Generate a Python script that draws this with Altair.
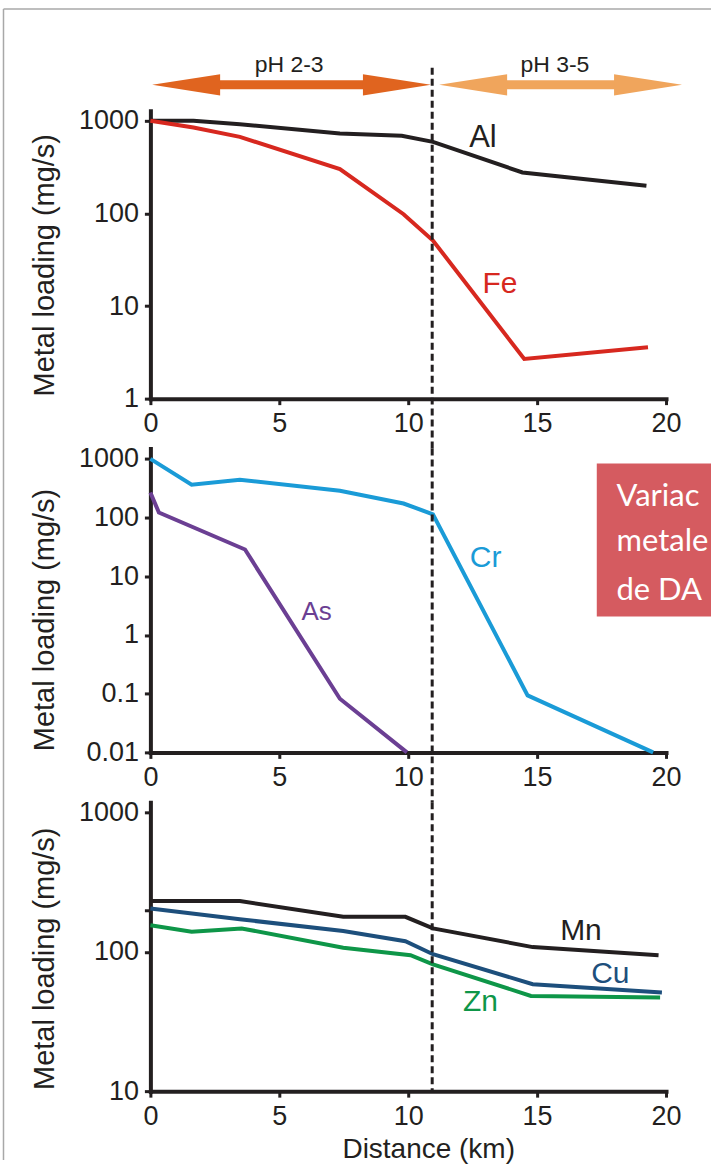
import altair as alt
import pandas as pd

# ---------------- data ----------------
al_x = [0, 1.67, 3.47, 7.35, 9.75, 10.96, 14.43, 19.24]
al_y = [1000, 1000, 920, 730, 688, 593, 277, 199]
fe_x = [0, 1.67, 3.47, 7.35, 9.82, 10.96, 14.5, 19.3]
fe_y = [1000, 847, 671, 301, 98, 51, 2.68, 3.58]

cr_x = [0, 1.6, 3.47, 7.35, 9.82, 10.96, 14.63, 19.5]
cr_y = [1000, 363, 443, 287, 174, 114, 0.0936, 0.01]
as_x = [0, 0.33, 3.67, 7.35, 9.95]
as_y = [268, 122, 28.6, 0.082, 0.01]

mn_x = [0, 3.47, 7.48, 9.89, 10.96, 14.83, 19.71]
mn_y = [231, 231, 178, 178, 147, 108, 94.4]
cu_x = [0, 3.47, 7.48, 9.89, 10.96, 14.83, 19.84]
cu_y = [204, 171, 141, 119, 96, 58.5, 51]
zn_x = [0, 1.6, 3.54, 7.48, 10.09, 10.96, 14.76, 19.77]
zn_y = [155, 139, 147, 107, 94.4, 81.3, 48.2, 47]

# series label anchors (km, mg/s)
top_labels = ["Al", "Fe"]
top_label_x = [12.9, 13.56]
top_label_y = [656, 17.3]
mid_labels = ["Cr", "As"]
mid_label_x = [13.0, 6.45]
mid_label_y = [20.6, 2.51]
bot_labels = ["Mn", "Cu", "Zn"]
bot_label_x = [16.7, 17.84, 12.8]
bot_label_y = [141, 69, 43.3]

# pH zones (km)
ph_names = ["pH 2-3", "pH 3-5"]
ph_start = [0.07, 11.2]
ph_end = [10.88, 20.62]
ph_text_x = [5.38, 15.69]
boundary_km = [10.93]

x_ticks = [0, 5, 10, 15, 20]
top_ticks = [1, 10, 100, 1000]
mid_ticks = [0.01, 0.1, 1, 10, 100, 1000]
bot_ticks = [10, 100, 200, 1000]

# ---------------- styles ----------------
BLACK = "#231F20"
RED = "#D7281F"
BLUE = "#1A9BD7"
PURPLE = "#6B3F93"
DKBLUE = "#1D4F7C"
GREEN = "#0E9648"
ORANGE = "#E0641F"
LORANGE = "#F0A55C"
FONT = "Liberation Sans"
W = 516
GAP = 50
H_TOP, H_MID, H_BOT = 288, 304, 289


def make_x(title=False):
    kw = dict(values=x_ticks, format="d", labelFlush=False, labelOverlap=False,
              domainColor=BLACK, domainWidth=4, domainCap="square",
              tickColor=BLACK, tickWidth=3, tickSize=6, grid=False,
              labelFont=FONT, labelFontSize=27, labelColor=BLACK, labelPadding=6)
    if title:
        kw.update(title="Distance (km)", titleFont=FONT, titleFontSize=28,
                  titleFontWeight="normal", titleColor=BLACK, titleX=278,
                  titleY=66, titleAlign="center", titleBaseline="alphabetic",
                  titleAnchor="start")
    else:
        kw.update(title="")
    return alt.X("x:Q", scale=alt.Scale(domain=[0, 20], nice=False, zero=False),
                 axis=alt.Axis(**kw))


def make_y(domain, ticks, title_y, hide200=False):
    kw = dict(values=ticks, format="~g", labelFlush=False, labelOverlap=False,
              domainColor=BLACK, domainWidth=4, domainCap="square",
              tickColor=BLACK, tickWidth=3, tickSize=6, grid=False,
              labelFont=FONT, labelFontSize=27, labelColor=BLACK, labelPadding=6,
              title="Metal loading (mg/s)", titleFont=FONT, titleFontSize=29,
              titleFontWeight="normal", titleColor=BLACK, titleAngle=270,
              titleX=-97, titleY=title_y, titleAlign="center",
              titleBaseline="alphabetic", titleAnchor="start")
    if hide200:
        kw["labelExpr"] = "datum.value == 200 ? '' : datum.label"
    return alt.Y("y:Q", scale=alt.Scale(type="log", domain=domain, nice=False),
                 axis=alt.Axis(**kw))


def series_df(items):
    rows = []
    for name, xs, ys, col in items:
        for a, b in zip(xs, ys):
            rows.append({"s": name, "x": a, "y": b, "c": col})
    return pd.DataFrame(rows)


def label_df(names, xs, ys, cols):
    return pd.DataFrame({"t": names, "x": xs, "y": ys, "c": cols})


def panel(items, labels, domain, ticks, height, title_y, extra_fn=None, x_title=False,
          hide200=False, dash_to=None, dash_from=0, label_sizes=None):
    X = make_x(x_title)
    Y = make_y(domain, ticks, title_y, hide200)
    lines = alt.Chart(series_df(items)).mark_line(strokeWidth=4).encode(
        x=X, y=Y, detail="s:N", color=alt.Color("c:N", scale=None))
    layers = [lines]
    for i in range(len(labels)):
        row = labels.iloc[[i]]
        size = label_sizes[i] if label_sizes else 30
        layers.append(alt.Chart(row).mark_text(font=FONT, fontSize=size, align="center",
                                               baseline="middle").encode(
            x=X, y=Y, text="t:N", color=alt.Color("c:N", scale=None)))
    dash = alt.Chart(pd.DataFrame({"x": boundary_km})).mark_rule(
        strokeDash=[7, 4], strokeWidth=3, color=BLACK).encode(
        x=X, y=alt.value(dash_from), y2=alt.value(dash_to))
    layers.append(dash)
    if extra_fn is not None:
        layers.extend(extra_fn(X))
    return alt.layer(*layers).properties(width=W, height=height)


one = pd.DataFrame({"a": [0]})


def top_extras(X):
    frame_top = alt.Chart(one).mark_rule(color="#A8A8A8", strokeWidth=1.5).encode(
        x=alt.value(-147), x2=alt.value(561), y=alt.value(-102))
    frame_left = alt.Chart(one).mark_rule(color="#A8A8A8", strokeWidth=1.5).encode(
        x=alt.value(-147), y=alt.value(-102), y2=alt.value(1050))
    arrows = pd.DataFrame({"x": ph_start, "x2": ph_end, "c": [ORANGE, LORANGE]})
    shaft = alt.Chart(arrows).mark_rule(strokeWidth=9, xOffset=60, x2Offset=-60).encode(
        x=X, x2="x2:Q", y=alt.value(-26), color=alt.Color("c:N", scale=None))
    head_l = alt.Chart(pd.DataFrame({"x": ph_start, "c": [ORANGE, LORANGE]})).mark_point(
        shape="M0,0L2,-0.31L2,0.31Z", filled=True, size=4624, opacity=1,
        strokeWidth=0).encode(x=X, y=alt.value(-26), color=alt.Color("c:N", scale=None))
    head_r = alt.Chart(pd.DataFrame({"x": ph_end, "c": [ORANGE, LORANGE]})).mark_point(
        shape="M0,0L-2,-0.31L-2,0.31Z", filled=True, size=4624, opacity=1,
        strokeWidth=0).encode(x=X, y=alt.value(-26), color=alt.Color("c:N", scale=None))
    ph_text = alt.Chart(pd.DataFrame({"x": ph_text_x, "t": ph_names})).mark_text(
        font=FONT, fontSize=23, color=BLACK, align="center", baseline="alphabetic").encode(
        x=X, y=alt.value(-39), text="t:N")
    return [shaft, head_l, head_r, ph_text, frame_top, frame_left]


def mid_extras(X):
    box = alt.Chart(one).mark_rect(color="#D55B60").encode(
        x=alt.value(446.7), x2=alt.value(561), y=alt.value(15), y2=alt.value(168))
    out = [box]
    for txt, yy in [("Variac", 57), ("metale", 102), ("de DA", 152)]:
        out.append(alt.Chart(one).mark_text(
            font="Lato", fontSize=31, color="white", align="left", baseline="alphabetic",
            limit=94, ellipsis="").encode(x=alt.value(466.4), y=alt.value(yy),
                                          text=alt.value(txt)))
    return out


top = panel([("Al", al_x, al_y, BLACK), ("Fe", fe_x, fe_y, RED)],
            label_df(top_labels, top_label_x, top_label_y, [BLACK, RED]),
            [1, 1282], top_ticks, H_TOP, 154, extra_fn=top_extras,
            dash_from=-43, dash_to=H_TOP + GAP, label_sizes=[31, 30])
mid = panel([("Cr", cr_x, cr_y, BLUE), ("As", as_x, as_y, PURPLE)],
            label_df(mid_labels, mid_label_x, mid_label_y, [BLUE, PURPLE]),
            [0.01, 1500], mid_ticks, H_MID, 171, extra_fn=mid_extras,
            dash_to=H_MID + GAP, label_sizes=[30, 26])
bot = panel([("Mn", mn_x, mn_y, BLACK), ("Cu", cu_x, cu_y, DKBLUE), ("Zn", zn_x, zn_y, GREEN)],
            label_df(bot_labels, bot_label_x, bot_label_y, [BLACK, DKBLUE, GREEN]),
            [10, 1180], bot_ticks, H_BOT, 156, x_title=True, hide200=True,
            dash_to=H_BOT)

chart = alt.vconcat(top, mid, bot, spacing=GAP, bounds="flush").properties(
    padding={"left": 2.5, "top": 7.5, "right": 0, "bottom": 0},
    background="white",
).configure_view(strokeWidth=0)

chart.save("out.html", embed_options={"renderer": "svg", "actions": False})
